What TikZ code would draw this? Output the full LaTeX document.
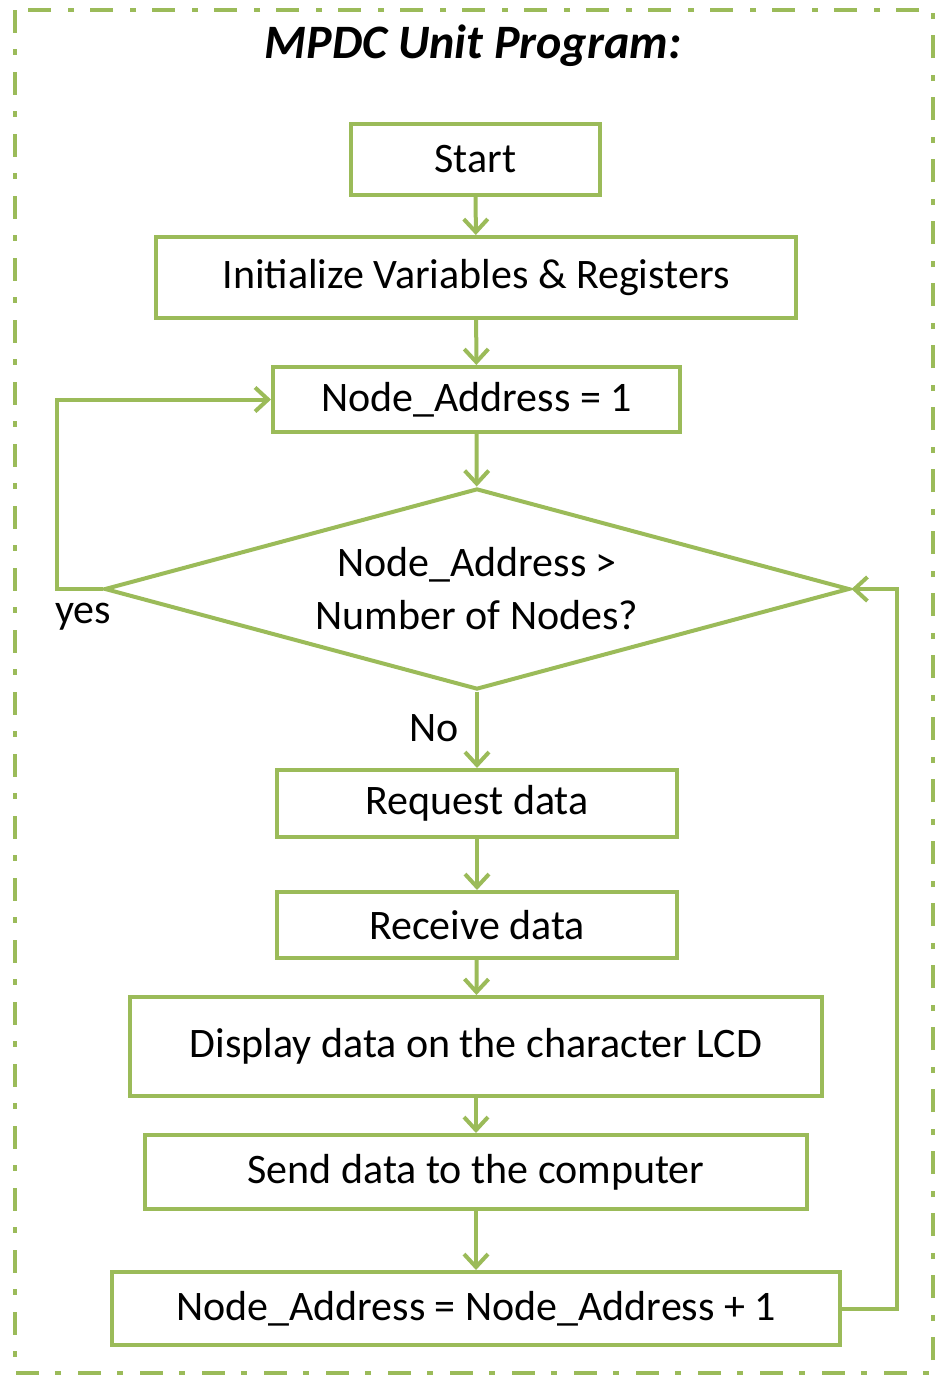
\documentclass[tikz,border=0pt]{standalone}
\usepackage{fontspec}
\setmainfont{Carlito}
\usetikzlibrary{shapes.geometric,arrows.meta}
\definecolor{leafgreen}{RGB}{155,187,89}
\begin{document}
\begin{tikzpicture}[x=0.5pt,y=-0.5pt,
    txt/.style={font=\fontsize{21}{26.5}\selectfont},
    box/.style={txt,draw=leafgreen,line width=2pt,rectangle,inner sep=0pt},
    decision/.style={txt,draw=leafgreen,line width=2pt,diamond,aspect=3.7,inner sep=0pt,align=center},
    arr/.style={draw=leafgreen,line width=2pt,-{Straight Barb[length=6.5pt,width=12pt]}}]
    \useasboundingbox (0,0) rectangle (936,1377);
    % marco punteado
    \draw[leafgreen,line width=2pt,dash pattern=on 11.5pt off 8pt on 3pt off 8.5pt] (15,10) rectangle (933,1373);
    \node (title) at (473,46) {\fontsize{24}{28}\selectfont\bfseries\itshape MPDC Unit Program:};
    % cajas
    \node[box,minimum width=124.5pt,minimum height=35.5pt] (start) at (475.5,159.5) {Start};
    \node[box,minimum width=320pt,minimum height=40.5pt] (init) at (476,277.5) {Initialize Variables \& Registers};
    \node[box,minimum width=203.5pt,minimum height=32.5pt] (addr) at (476.5,399.5) {Node\_Address = 1};
    \node[decision,minimum width=372.5pt,minimum height=100.5pt] (check) at (477,589) {Node\_Address >\\Number of Nodes?};
    \node[box,minimum width=200pt,minimum height=33.5pt] (request) at (477,803.5) {Request data};
    \node[box,minimum width=200pt,minimum height=33pt] (receive) at (477,925) {Receive data};
    \node[box,minimum width=346pt,minimum height=49.5pt] (display) at (476,1046.5) {Display data on the character LCD};
    \node[box,minimum width=331pt,minimum height=37pt] (send) at (476,1172) {Send data to the computer};
    \node[box,minimum width=364pt,minimum height=36.5pt] (incr) at (476,1308.5) {Node\_Address = Node\_Address + 1};
    % etiquetas
    \node[txt] (yes) at (83,617) {yes};
    \node[txt] (no) at (434,728) {No};
    % flechas
    \draw[arr] (start) -- (init);
    \draw[arr] (init) -- (addr);
    \draw[arr] (addr) -- (check);
    \draw[arr] (check) -- (request);
    \draw[arr] (request) -- (receive);
    \draw[arr] (receive) -- (display);
    \draw[arr] (display) -- (send);
    \draw[arr] (send) -- (incr);
    % lazo yes
    \draw[arr] (check.west) -- ++(-46,0) |- (addr.west);
    % lazo de vuelta
    \draw[arr] (incr.east) -- ++(55,0) |- (check.east);
\end{tikzpicture}
\end{document}
